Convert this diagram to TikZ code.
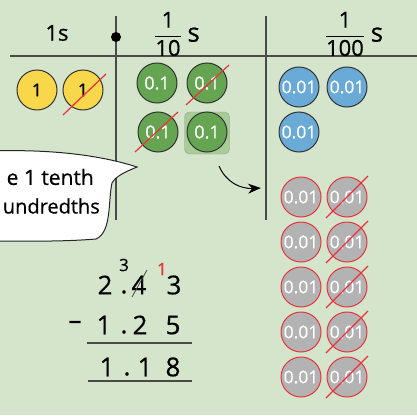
\documentclass[tikz,border=0pt]{standalone}
\usepackage{amsmath}
\usepackage{fontspec}
\setmainfont{Open Sans}[FakeBold=0.6]
\usepackage{xcolor}
\usetikzlibrary{arrows.meta}
\definecolor{bgGreen}{HTML}{D4E5CC}
\definecolor{coinYellow}{HTML}{F8D74A}
\definecolor{coinGreen}{HTML}{65A552}
\definecolor{coinBlue}{HTML}{6AAAD6}
\definecolor{coinGray}{HTML}{B3B3B3}
\definecolor{crossRed}{HTML}{E8333C}
\definecolor{lineGray}{HTML}{4A4A4A}
\definecolor{pickGreen}{HTML}{A7CC96}

\begin{document}
\begin{tikzpicture}[x=1pt, y=-1pt,
    coin/.style={circle, draw=black!80, line width=1pt, minimum size=40pt, inner sep=0pt,
        font=\fontsize{18}{18}\selectfont},
    one/.style={coin, fill=coinYellow, text=black},
    tenth/.style={coin, fill=coinGreen, text=white},
    hundredth/.style={coin, fill=coinBlue, text=white, font=\fontsize{17.5}{17.5}\selectfont},
    spent/.style={hundredth, fill=coinGray, draw=crossRed},
    strike/.style={crossRed, line width=1.2pt},
    digit/.style={inner sep=0pt, font=\fontsize{26}{26}\selectfont},
    head/.style={inner sep=0pt, font=\fontsize{22}{22}\selectfont}]
    \clip (0,0) rectangle (417,415);
    \fill[bgGreen] (0,0) rectangle (417,415);
    % place value chart
    \draw[lineGray, line width=1.5pt] (10,56) -- (417,56);
    \draw[lineGray, line width=1.5pt] (116,16) -- (116,220);
    \draw[lineGray, line width=1.5pt] (266,16) -- (266,220);
    \node[circle, fill=black, inner sep=0pt, minimum size=10pt] (dot) at (116,37) {};
    \node[head] (hOnes) at (57,33) {1s};
    \node[head] (hTenths) at (177,34) {\(\dfrac{\text{1}}{\text{10}}\) {\fontsize{26}{26}\selectfont s}};
    \node[head] (hHund) at (354,34) {\(\dfrac{\text{1}}{\text{100}}\) {\fontsize{26}{26}\selectfont s}};
    % ones
    \node[one] (y1) at (37,90) {1};
    \node[one] (y2) at (83,90) {1};
    \draw[strike] (y2.center) ++(-20,25) -- ++(43,-41);
    % tenths
    \node[draw=black!40, fill=pickGreen, rounded corners=5pt, minimum width=45pt, minimum height=42pt] (pick) at (207,133) {};
    \node[tenth] (g1) at (157,83) {0.1};
    \node[tenth] (g2) at (207,83) {0.1};
    \node[tenth] (g3) at (158,132) {0.1};
    \node[tenth] (g4) at (207,132) {0.1};
    \draw[strike] (g2.center) ++(-21,22) -- ++(43,-40);
    \draw[strike] (g3.center) ++(-23,20) -- ++(43,-40);
    % hundredths
    \node[hundredth] (b1) at (299,87) {0.01};
    \node[hundredth] (b2) at (347,87) {0.01};
    \node[hundredth] (b3) at (299,132) {0.01};
    \node[spent] (s1) at (301,197) {0.01};
    \node[spent] (s2) at (347,197) {0.01};
    \node[spent] (s3) at (301,242) {0.01};
    \node[spent] (s4) at (347,242) {0.01};
    \node[spent] (s5) at (301,287) {0.01};
    \node[spent] (s6) at (347,287) {0.01};
    \node[spent] (s7) at (301,332) {0.01};
    \node[spent] (s8) at (347,332) {0.01};
    \node[spent] (s9) at (301,377) {0.01};
    \node[spent] (s10) at (347,377) {0.01};
    \draw[strike] (s2.center) ++(-21,21) -- ++(42,-42);
    \draw[strike] (s4.center) ++(-21,21) -- ++(42,-42);
    \draw[strike] (s6.center) ++(-21,21) -- ++(42,-42);
    \draw[strike] (s8.center) ++(-21,21) -- ++(42,-42);
    \draw[strike] (s10.center) ++(-21,21) -- ++(42,-42);
    % exchange arrow
    \coordinate (arrStart) at (219,166);
    \coordinate (arrEnd) at (261,188);
    \draw[line width=1pt, -{Stealth[length=13pt, width=10pt]}] (arrStart) .. controls (226,182) and (240,189) .. (arrEnd);
    % speech bubble
    \draw[fill=white, draw=black!85, line width=1pt] (-10,151) .. controls (50,149) and (100,155) .. (137,167)
        .. controls (125,172) and (116,176) .. (112,183) .. controls (108,200) and (112,232) .. (96,239)
        .. controls (60,242) and (20,241) .. (-10,241) -- cycle;
    \node[anchor=east, inner sep=0pt, font=\fontsize{21}{21}\selectfont] (say1) at (94,177) {e 1 tenth};
    \node[anchor=east, inner sep=0pt, font=\fontsize{20}{20}\selectfont] (say2) at (100,206) {undredths};
    % column subtraction
    \node[digit] (a2) at (105,285) {2};
    \node[digit] (aDot) at (124,292) {.};
    \node[digit] (a4) at (139,285) {4};
    \node[digit] (a3) at (174,285) {3};
    \draw[lineGray, line width=0.8pt] (132,297) -- (147,270);
    \node[inner sep=0pt, font=\fontsize{17}{17}\selectfont] (aNew) at (124,265) {3};
    \node[inner sep=0pt, text=crossRed, font=\fontsize{17}{17}\selectfont] (aCarry) at (162,269) {1};
    \node[digit] (bMinus) at (75,325) {--};
    \node[digit] (b1) at (104,325) {1};
    \node[digit] (bDot) at (124,332) {.};
    \node[digit] (b2) at (140,325) {2};
    \node[digit] (b5) at (173,325) {5};
    \draw[lineGray, line width=1.2pt] (87,343) -- (192,343);
    \node[digit] (c1) at (107,367) {1};
    \node[digit] (cDot) at (127,374) {.};
    \node[digit] (c1b) at (145,367) {1};
    \node[digit] (c8) at (173,367) {8};
    \draw[lineGray, line width=1.2pt] (88,381) -- (192,381);
\end{tikzpicture}
\end{document}
